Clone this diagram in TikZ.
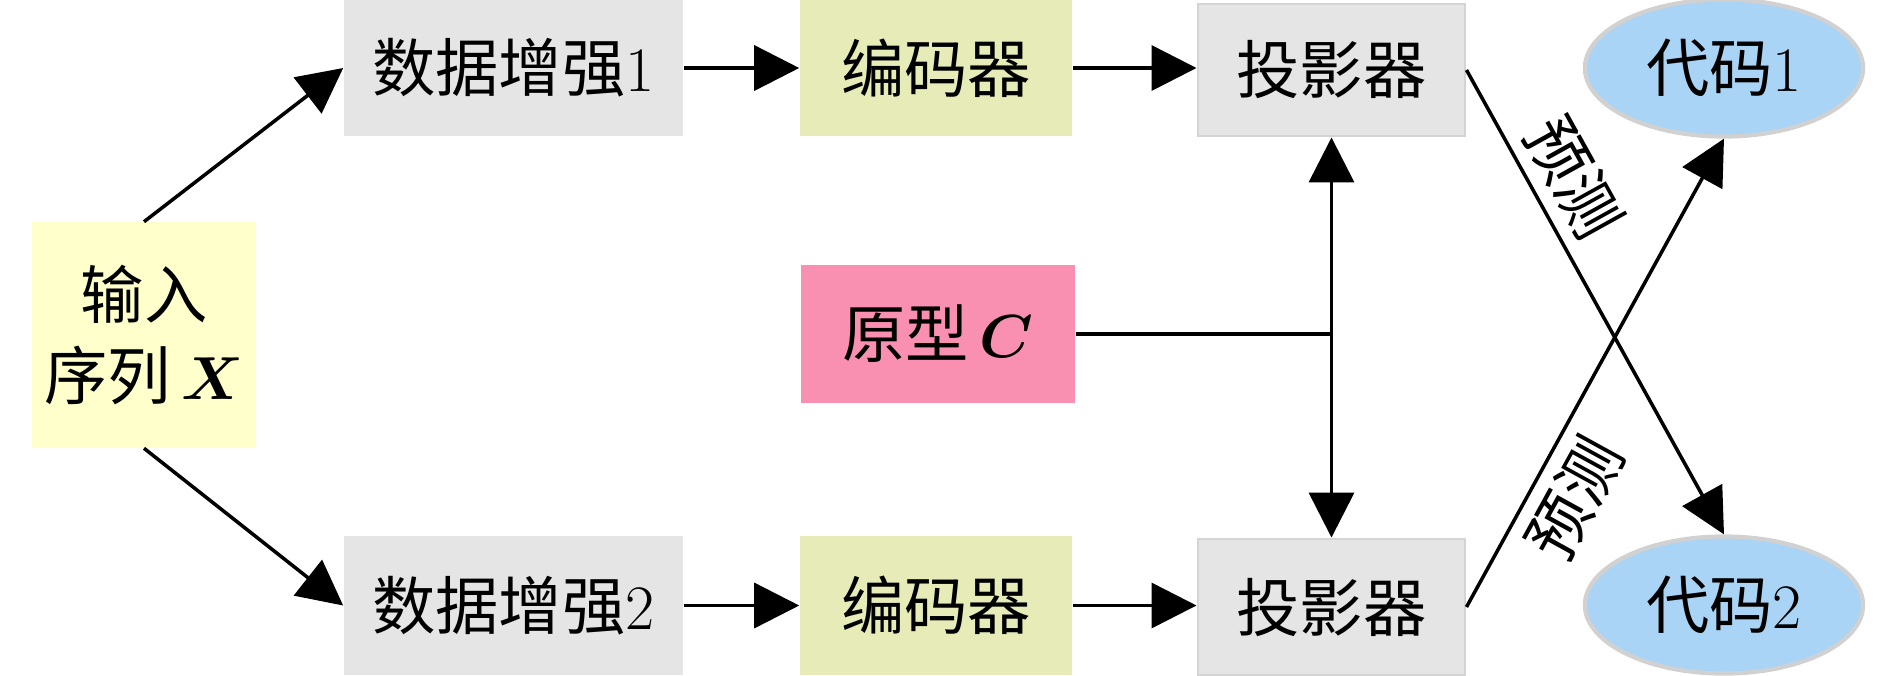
\documentclass[tikz,border=0pt]{standalone}
\usepackage{amsmath}
\usepackage{fontspec}
\newfontfamily\cjk{Noto Sans CJK SC}
\usetikzlibrary{arrows.meta,shapes.geometric}
\definecolor{cyellow}{HTML}{FFFFCC}
\definecolor{cgray}{HTML}{E5E5E5}
\definecolor{cgreen}{HTML}{E6EBB7}
\definecolor{cpink}{HTML}{F98FB1}
\definecolor{cblue}{HTML}{A9D4F5}
\begin{document}
\begin{tikzpicture}[x=0.01cm,y=-0.01cm,
  lbl/.style={font=\fontsize{18pt}{23pt}\selectfont},
  box/.style={lbl, rectangle, inner sep=0pt, align=center},
  augbox/.style={box, fill=cgray, minimum width=3.39cm},
  encbox/.style={box, fill=cgreen, minimum width=2.72cm},
  projbox/.style={box, fill=cgray, draw=black!17, line width=0.8pt, minimum width=2.67cm},
  codebox/.style={lbl, ellipse, inner sep=0pt, fill=cblue, draw=black!18, line width=1.2pt,
                  minimum width=2.78cm, minimum height=1.37cm},
  conn/.style={line width=1pt},
  arr/.style={conn, -{Triangle[length=0.45cm,width=0.45cm]}},
  plabel/.style={lbl, pos=0.275, sloped}
]
\useasboundingbox (0,0) rectangle (1890,675);

\node[box, fill=cyellow, minimum width=2.24cm, minimum height=2.25cm] (in) at (144,335)
  {{\cjk 输入}\\{\cjk 序列}\,$\boldsymbol{X}$};

\node[augbox, minimum height=1.36cm] (aug1) at (513.5,68) {{\cjk 数据增强}1};
\node[encbox, minimum height=1.36cm] (enc1) at (936,68) {\cjk 编码器};
\node[projbox, minimum height=1.32cm] (proj1) at (1331.5,70) {\cjk 投影器};
\node[codebox] (code1) at (1724,68) {{\cjk 代码}1};

\node[box, fill=cpink, minimum width=2.74cm, minimum height=1.38cm] (proto) at (938,334)
  {{\cjk 原型}\,$\boldsymbol{C}$};

\node[augbox, minimum height=1.39cm] (aug2) at (513.5,605.5) {{\cjk 数据增强}2};
\node[encbox, minimum height=1.39cm] (enc2) at (936,605.5) {\cjk 编码器};
\node[projbox, minimum height=1.36cm] (proj2) at (1331.5,607) {\cjk 投影器};
\node[codebox] (code2) at (1724,605) {{\cjk 代码}2};

\draw[arr] (in.north) -- (aug1.west);
\draw[arr] (in.south) -- (aug2.west);
\draw[arr] (aug1.east) -- (aug1.east -| enc1.west);
\draw[arr] (enc1.east) -- (enc1.east -| proj1.west);
\draw[arr] (aug2.east) -- (aug2.east -| enc2.west);
\draw[arr] (enc2.east) -- (enc2.east -| proj2.west);

\coordinate (j) at (proto.east -| proj1.south);
\draw[conn] (proto.east) -- (j);
\draw[arr] (j) -- (proj1.south);
\draw[arr] (j) -- (proj2.north);

\draw[arr] (proj1.east) -- node[plabel, above] (p1) {\cjk 预测} (code2.north);
\draw[arr] (proj2.east) -- node[plabel, below] (p2) {\cjk 预测} (code1.south);
\end{tikzpicture}
\end{document}
